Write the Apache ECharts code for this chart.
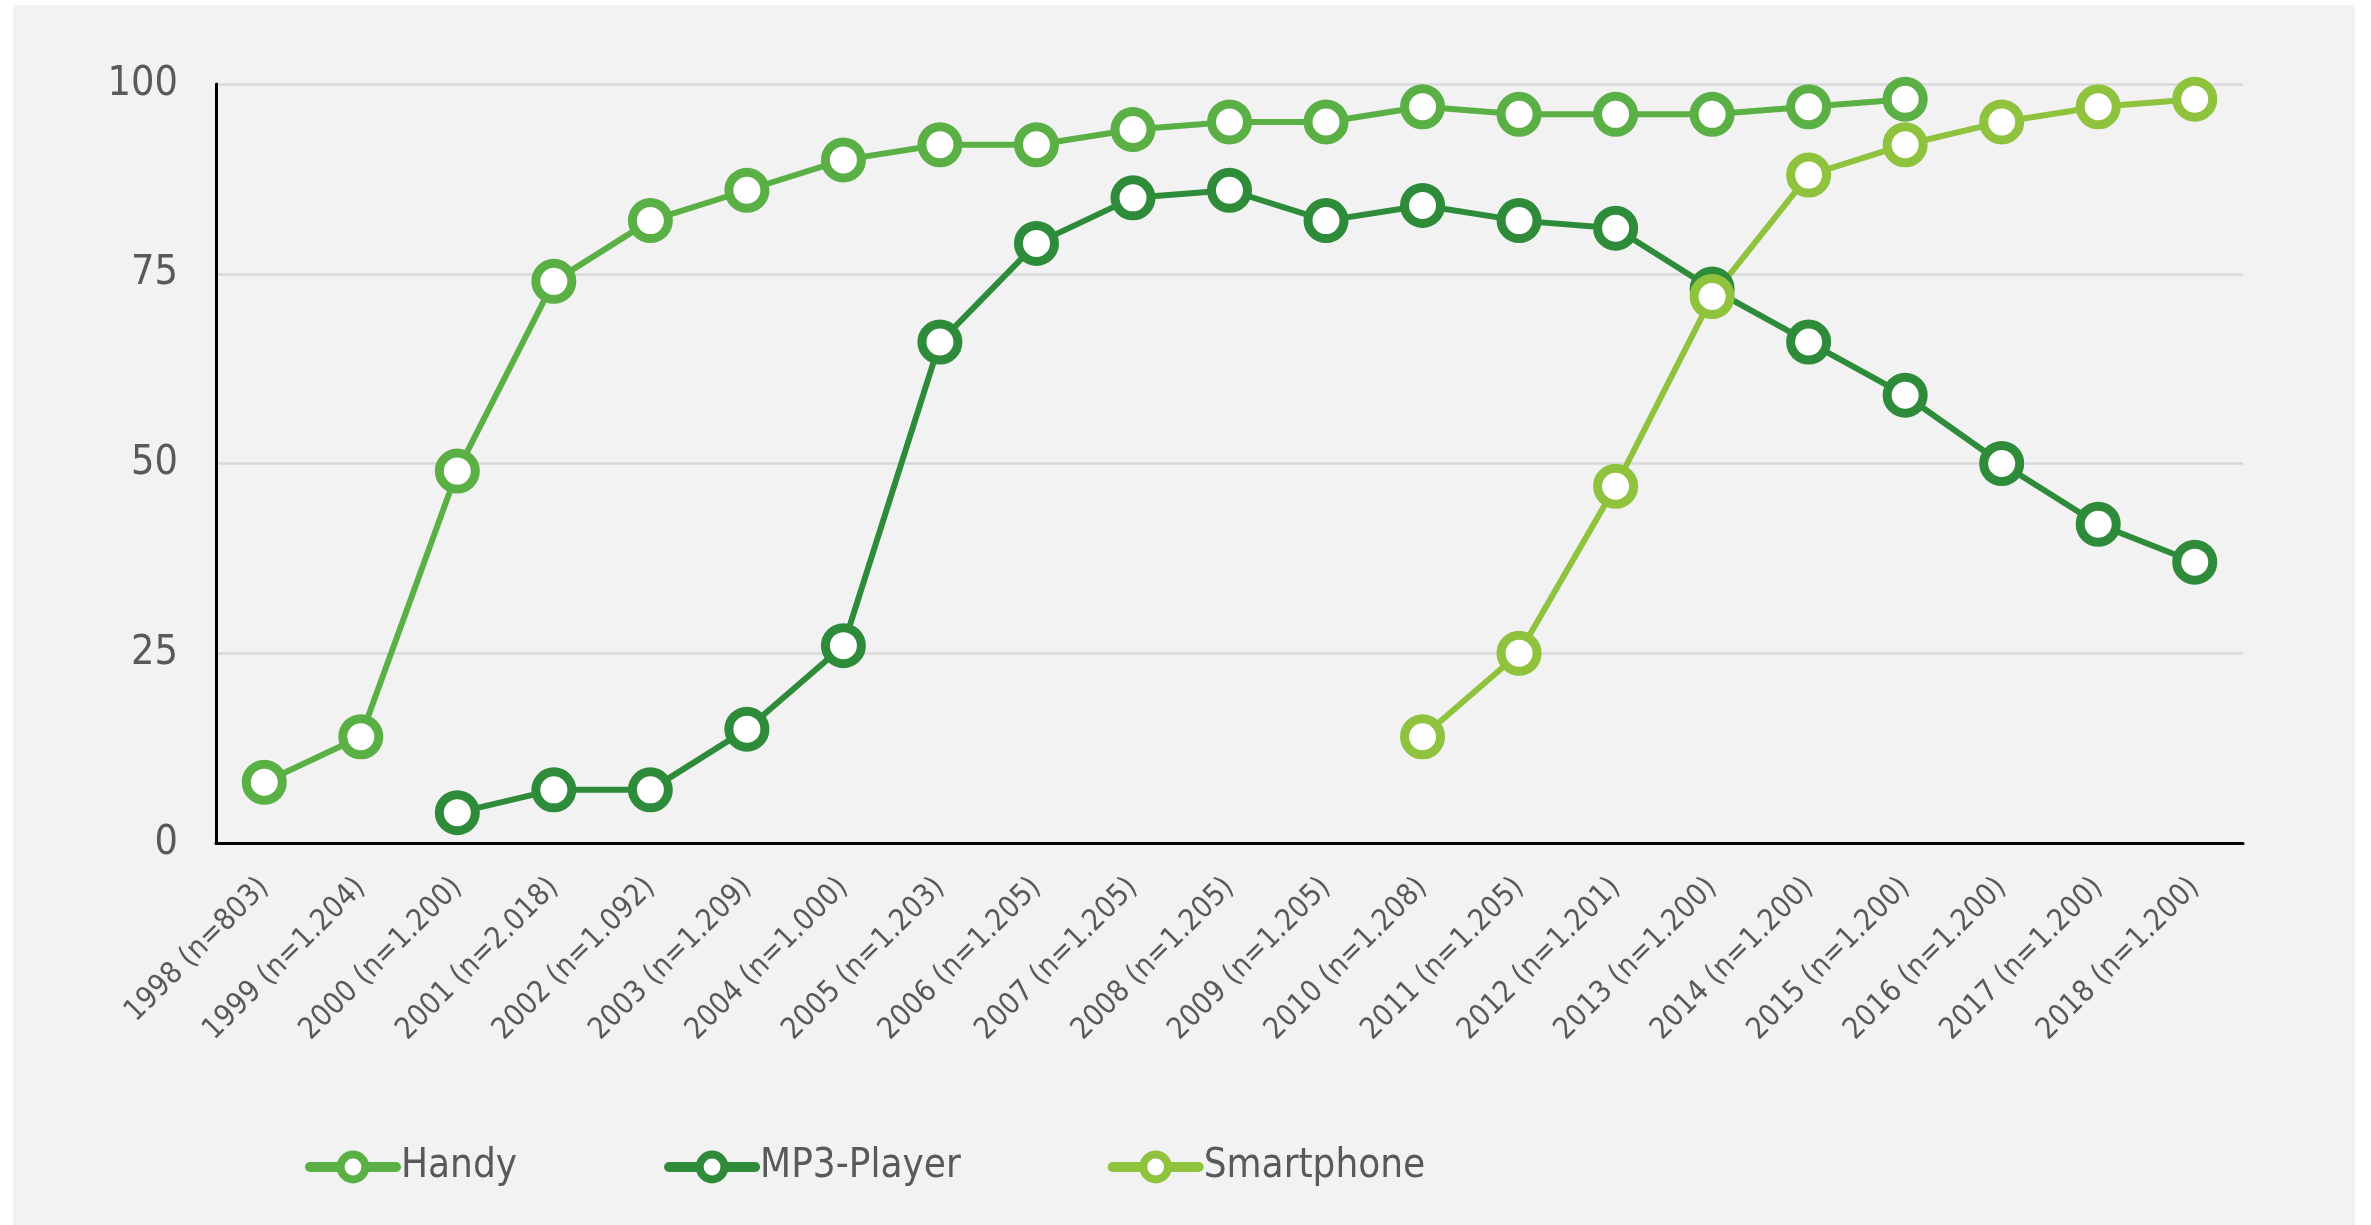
<!DOCTYPE html>
<html>
<head>
<meta charset="utf-8">
<script src="https://cdn.jsdelivr.net/npm/echarts@6/dist/echarts.min.js"></script>
<style>
  html, body { margin: 0; padding: 0; background: #ffffff; }
  #chart { width: 2371px; height: 1225px; }
</style>
</head>
<body>
<div id="chart"></div>
<script>
// Survey years with sample sizes
const categories = [
  '1998 (n=803)', '1999 (n=1.204)', '2000 (n=1.200)', '2001 (n=2.018)',
  '2002 (n=1.092)', '2003 (n=1.209)', '2004 (n=1.000)', '2005 (n=1.203)',
  '2006 (n=1.205)', '2007 (n=1.205)', '2008 (n=1.205)', '2009 (n=1.205)',
  '2010 (n=1.208)', '2011 (n=1.205)', '2012 (n=1.201)', '2013 (n=1.200)',
  '2014 (n=1.200)', '2015 (n=1.200)', '2016 (n=1.200)', '2017 (n=1.200)',
  '2018 (n=1.200)'
];

// Device ownership in percent (null = not surveyed)
const handy = [8, 14, 49, 74, 82, 86, 90, 92, 92, 94, 95, 95, 97, 96, 96, 96, 97, 98, null, null, null];
const mp3Player = [null, null, 4, 7, 7, 15, 26, 66, 79, 85, 86, 82, 84, 82, 81, 73, 66, 59, 50, 42, 37];
const smartphone = [null, null, null, null, null, null, null, null, null, null, null, null, 14, 25, 47, 72, 88, 92, 95, 97, 98];

const yTicks = { min: 0, max: 100, interval: 25 };

const FONT = '"DejaVu Sans Condensed", "DejaVu Sans", sans-serif';
const TEXT_COLOR = '#595959';

function lineSeries(name, data, color) {
  return {
    name: name,
    type: 'line',
    data: data,
    symbol: 'circle',
    symbolSize: 36,
    showAllSymbol: true,
    connectNulls: false,
    lineStyle: { color: color, width: 6 },
    itemStyle: { color: '#ffffff', borderColor: color, borderWidth: 9 },
    emphasis: { disabled: true }
  };
}

const chart = echarts.init(document.getElementById('chart'), null, { renderer: 'canvas' });

chart.setOption({
  animation: false,
  backgroundColor: '#ffffff',
  graphic: [{
    type: 'rect',
    z: -10,
    silent: true,
    shape: { x: 13, y: 5, width: 2342, height: 1220 },
    style: { fill: '#f2f2f2' }
  }],
  grid: { left: 216, right: 128, top: 84, bottom: 382, containLabel: false },
  legend: {
    left: 300,
    top: 1142,
    itemWidth: 86,
    itemHeight: 31,
    itemGap: 147,
    lineStyle: { width: 10, cap: 'round' },
    itemStyle: { color: '#ffffff', borderWidth: 8 },
    textStyle: { fontFamily: FONT, fontSize: 40, color: TEXT_COLOR },
    data: ['Handy', 'MP3-Player', 'Smartphone']
  },
  xAxis: {
    type: 'category',
    data: categories,
    boundaryGap: true,
    axisLine: { show: true, lineStyle: { color: '#000000', width: 3 } },
    axisTick: { show: false },
    axisLabel: {
      interval: 0,
      rotate: 45,
      margin: 40,
      fontFamily: FONT,
      fontSize: 30,
      color: TEXT_COLOR
    },
    splitLine: { show: false }
  },
  yAxis: {
    type: 'value',
    min: yTicks.min,
    max: yTicks.max,
    interval: yTicks.interval,
    axisLine: { show: true, lineStyle: { color: '#000000', width: 3 } },
    axisTick: { show: false },
    axisLabel: {
      margin: 38,
      fontFamily: FONT,
      fontSize: 41,
      color: TEXT_COLOR
    },
    splitLine: { show: true, lineStyle: { color: '#d9d9d9', width: 2.5 } }
  },
  series: [
    lineSeries('Handy', handy, '#5ab045'),
    lineSeries('MP3-Player', mp3Player, '#2e8b3a'),
    lineSeries('Smartphone', smartphone, '#8fc23d')
  ]
});
</script>
</body>
</html>
